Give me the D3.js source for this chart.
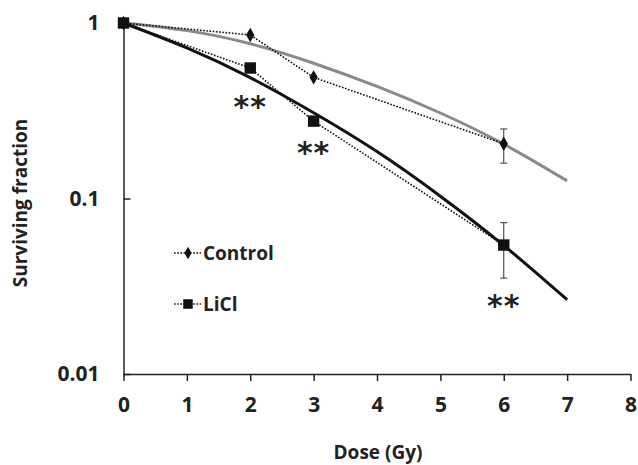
<!DOCTYPE html>
<html>
<head>
<meta charset="utf-8">
<script src="https://cdn.jsdelivr.net/npm/d3@7"></script>
<style>
  body { margin: 0; background: #fff; }
  svg { display: block; }
  text { font-family: "Open Sans", Lato, sans-serif; font-weight: bold; fill: #222; }
</style>
</head>
<body>
<svg id="graphe" width="638" height="465"></svg>
<script>
// DONNÉES
const doses = [0, 2, 3, 6]
const controle = [1, 0.855, 0.49, 0.205]
const controleErrHaut = [null, null, null, 0.249]
const controleErrBas = [null, null, null, 0.159]
const licl = [1, 0.554, 0.276, 0.0543]
const liclErrHaut = [null, null, null, 0.0728]
const liclErrBas = [null, null, null, 0.0352]

// courbes ajustées
const dosesCourbe = [0, 1, 2, 3, 4, 5, 6, 7]
const courbeControle = [1, 0.905, 0.762, 0.59, 0.435, 0.307, 0.204, 0.126]
const courbeLicl = [1, 0.721, 0.488, 0.308, 0.185, 0.103, 0.054, 0.0265]

// astérisques (position lue en valeur de l'axe)
const etoilesDoses = [2, 3, 6]
const etoilesValeurs = [0.36, 0.196, 0.0264]

const ticksX = [0, 1, 2, 3, 4, 5, 6, 7, 8]
const ticksY = [1, 0.1, 0.01]
const libellesY = ['1', '0.1', '0.01']

// ÉCHELLES
const svg = d3.select('#graphe')
const x = d3.scaleLinear().domain([0, 8]).range([123.5, 630.5])
const y = d3.scaleLog().domain([0.01, 1]).range([374, 23])

// AXES
const axeX = svg.append('g').attr('transform', 'translate(0,374)')
    .call(d3.axisBottom(x).tickValues(ticksX).tickSize(7).tickSizeOuter(0).tickPadding(16))
axeX.select('.domain').attr('stroke', '#222').attr('stroke-width', 1.5)
axeX.selectAll('.tick line').attr('stroke', '#222').attr('stroke-width', 1.5)
axeX.selectAll('.tick text').style('font-size', '21px').attr('font-family', null).attr('fill', null)

const axeY = svg.append('g').attr('transform', 'translate(123.5,0)')
    .call(d3.axisLeft(y).tickValues(ticksY).tickFormat((d, i) => libellesY[i]).tickSize(-7).tickSizeOuter(0).tickPadding(24))
axeY.select('.domain').attr('stroke', '#222').attr('stroke-width', 1.5)
axeY.selectAll('.tick line').attr('stroke', '#222').attr('stroke-width', 1.5)
axeY.selectAll('.tick text').style('font-size', '21px').attr('font-family', null).attr('fill', null)

// Titres des axes
svg.append('text')
    .attr('x', 378).attr('y', 459)
    .attr('text-anchor', 'middle')
    .style('font-size', '19px')
    .text('Dose (Gy)')
svg.append('text')
    .attr('transform', 'translate(27,203) rotate(-90)')
    .attr('text-anchor', 'middle')
    .style('font-size', '19px')
    .text('Surviving fraction')

// Courbes ajustées
const ligneCourbe = d3.line()
    .x(d => x(d[0]))
    .y(d => y(d[1]))
    .curve(d3.curveNatural)
svg.append('path')
    .datum(dosesCourbe.map((d, i) => [d, courbeControle[i]]))
    .attr('d', ligneCourbe)
    .attr('fill', 'none')
    .attr('stroke', '#8a8a8a')
    .attr('stroke-width', 3)
svg.append('path')
    .datum(dosesCourbe.map((d, i) => [d, courbeLicl[i]]))
    .attr('d', ligneCourbe)
    .attr('fill', 'none')
    .attr('stroke', '#111')
    .attr('stroke-width', 3)

// Séries en pointillés
const ligneSerie = d3.line().x(d => x(d[0])).y(d => y(d[1]))
function dessinerSerie(valeurs, errHaut, errBas, symbole, taille){
    const points = doses.map((d, i) => [d, valeurs[i]])
    svg.append('path')
        .datum(points)
        .attr('d', ligneSerie)
        .attr('fill', 'none')
        .attr('stroke', '#111')
        .attr('stroke-width', 1.6)
        .attr('stroke-dasharray', '1.6,1.6')
    // barres d'erreur
    doses.forEach((d, i) => {
        if (errHaut[i] === null) return
        const g = svg.append('g').attr('stroke', '#333').attr('stroke-width', 1)
        g.append('line').attr('x1', x(d)).attr('x2', x(d)).attr('y1', y(errHaut[i])).attr('y2', y(errBas[i]))
        g.append('line').attr('x1', x(d) - 3.5).attr('x2', x(d) + 3.5).attr('y1', y(errHaut[i])).attr('y2', y(errHaut[i]))
        g.append('line').attr('x1', x(d) - 3.5).attr('x2', x(d) + 3.5).attr('y1', y(errBas[i])).attr('y2', y(errBas[i]))
    })
    svg.append('g').selectAll('path')
        .data(points)
        .join('path')
        .attr('transform', d => `translate(${x(d[0])},${y(d[1])})`)
        .attr('d', d3.symbol().type(symbole).size(taille))
        .attr('fill', '#111')
}
dessinerSerie(controle, controleErrHaut, controleErrBas, d3.symbolDiamond, 60)
dessinerSerie(licl, liclErrHaut, liclErrBas, d3.symbolSquare, 130)

// Astérisques de significativité
svg.append('g').selectAll('text')
    .data(etoilesDoses.map((d, i) => [d, etoilesValeurs[i]]))
    .join('text')
    .attr('x', d => x(d[0]))
    .attr('y', d => y(d[1]) + 16)
    .attr('text-anchor', 'middle')
    .style('font-family', '"DejaVu Sans", sans-serif')
    .style('font-size', '30px')
    .style('font-weight', 'bold')
    .attr('fill', '#222')
    .attr('letter-spacing', '1px')
    .text('**')

// LÉGENDE
const legende = [
    { nom: 'Control', symbole: d3.symbolDiamond, taille: 45, y: 253 },
    { nom: 'LiCl', symbole: d3.symbolSquare, taille: 90, y: 304 }
]
legende.forEach(l => {
    svg.append('line')
        .attr('x1', 174).attr('x2', 201).attr('y1', l.y).attr('y2', l.y)
        .attr('stroke', '#111').attr('stroke-width', 1.6).attr('stroke-dasharray', '1.6,1.6')
    svg.append('path')
        .attr('transform', `translate(188,${l.y})`)
        .attr('d', d3.symbol().type(l.symbole).size(l.taille))
        .attr('fill', '#111')
    svg.append('text')
        .attr('x', 203).attr('y', l.y + 7)
        .style('font-size', '19px')
        .text(l.nom)
})
</script>
</body>
</html>
